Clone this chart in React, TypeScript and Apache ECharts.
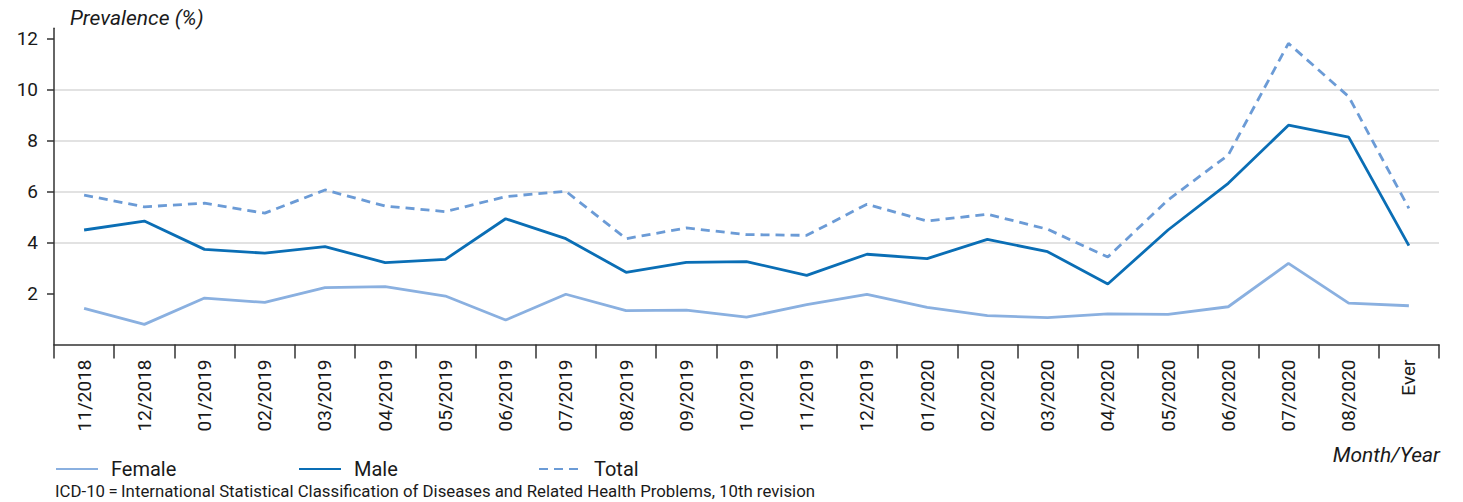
import React, { useEffect, useRef } from "react";
import * as echarts from "echarts";

const categories = [
  "11/2018", "12/2018", "01/2019", "02/2019", "03/2019", "04/2019", "05/2019", "06/2019",
  "07/2019", "08/2019", "09/2019", "10/2019", "11/2019", "12/2019", "01/2020", "02/2020",
  "03/2020", "04/2020", "05/2020", "06/2020", "07/2020", "08/2020", "Ever",
];
const female = [1.42, 0.79, 1.82, 1.65, 2.23, 2.27, 1.9, 0.96, 1.97, 1.33, 1.35, 1.07, 1.56, 1.97, 1.46, 1.13, 1.05, 1.2, 1.18, 1.48, 3.18, 1.62, 1.52];
const male = [4.49, 4.84, 3.73, 3.58, 3.84, 3.21, 3.34, 4.93, 4.15, 2.83, 3.22, 3.25, 2.71, 3.54, 3.37, 4.12, 3.64, 2.37, 4.49, 6.32, 8.6, 8.13, 3.88];
const total = [5.86, 5.4, 5.54, 5.15, 6.06, 5.43, 5.21, 5.8, 6.01, 4.15, 4.57, 4.31, 4.28, 5.5, 4.84, 5.11, 4.52, 3.43, 5.67, 7.43, 11.81, 9.72, 5.34];
const yTicks = [2, 4, 6, 8, 10, 12];

const FONT = "Roboto, 'Open Sans', sans-serif";
const TEXT = "#1a1a1a";
const AXIS = "#333333";
const C_FEMALE = "#8AB0E0";
const C_MALE = "#0A6EB5";
const C_TOTAL = "#6B9BD6";

export default function App() {
  const ref = useRef<HTMLDivElement>(null);
  useEffect(() => {
    if (!ref.current) return;
    const chart = echarts.init(ref.current, undefined, { renderer: "svg" });
    const legendBase = {
      top: 459,
      padding: 0,
      itemWidth: 42,
      itemHeight: 20,
      orient: "horizontal" as const,
      itemStyle: { opacity: 0 },
      textStyle: { fontFamily: FONT, fontSize: 20, color: TEXT, padding: [0, 0, 0, 8] },
    };
    chart.setOption({
      animation: false,
      grid: { left: 54, right: 24, top: 28.3, bottom: 157.5, containLabel: false },
      legend: [
        { ...legendBase, left: 55, data: ["Female"] },
        { ...legendBase, left: 298, data: ["Male"] },
        { ...legendBase, left: 538, data: ["Total"] },
      ],
      xAxis: {
        type: "category",
        data: categories,
        boundaryGap: true,
        axisLine: { show: true, lineStyle: { color: AXIS, width: 1.5 } },
        axisTick: { show: true, length: 14, interval: 0, alignWithLabel: false, lineStyle: { color: AXIS, width: 1.5 } },
        axisLabel: { rotate: 90, interval: 0, margin: 15, fontSize: 19, fontFamily: FONT, color: TEXT },
        splitLine: { show: false },
      },
      yAxis: {
        type: "value",
        min: 0,
        max: 12.4,
        interval: 2,
        axisLine: { show: true, lineStyle: { color: AXIS, width: 1.5 } },
        axisTick: { show: true, length: 7, customValues: yTicks, lineStyle: { color: AXIS, width: 1.5 } },
        axisLabel: {
          customValues: yTicks,
          margin: 16,
          fontSize: 19,
          fontFamily: FONT,
          color: TEXT,
          formatter: (v: number) => (yTicks.indexOf(v) >= 0 ? String(v) : ""),
        },
        splitLine: { show: true, showMinLine: false, showMaxLine: false, lineStyle: { color: "#d9d9d9", width: 1.5 } },
      },
      series: [
        { name: "Female", type: "line", data: female, symbol: "none", lineStyle: { color: C_FEMALE, width: 2.8 }, itemStyle: { color: C_FEMALE } },
        { name: "Male", type: "line", data: male, symbol: "none", lineStyle: { color: C_MALE, width: 2.8 }, itemStyle: { color: C_MALE } },
        { name: "Total", type: "line", data: total, symbol: "none", lineStyle: { color: C_TOTAL, width: 2.8, type: [9, 6] }, itemStyle: { color: C_TOTAL } },
      ],
      graphic: [
        { type: "text", left: 70, top: 7, style: { text: "Prevalence (%)", font: `italic 21px ${FONT}`, fill: TEXT } },
        { type: "text", right: 23, top: 444, style: { text: "Month/Year", font: `italic 21px ${FONT}`, fill: TEXT } },
        {
          type: "text",
          left: 55,
          top: 482,
          style: {
            text: "ICD-10\u2009=\u2009International Statistical Classification of Diseases and Related Health Problems, 10th revision",
            font: `16.8px ${FONT}`,
            fill: TEXT,
          },
        },
      ],
    });
    return () => chart.dispose();
  }, []);
  return <div ref={ref} style={{ position: "absolute", left: 0, top: 0, width: 1463, height: 502 }} />;
}
